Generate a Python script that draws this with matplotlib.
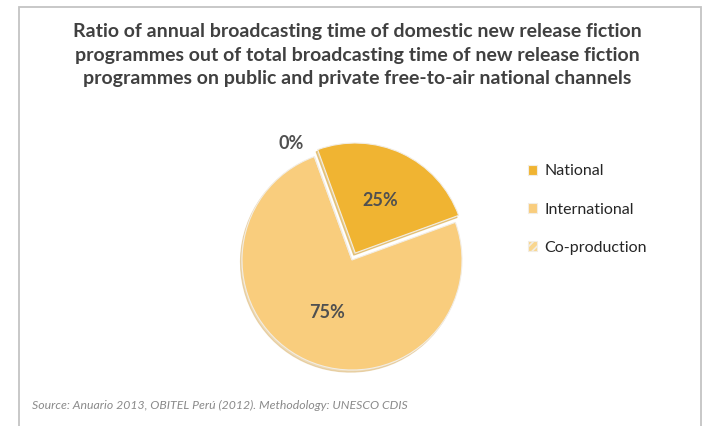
import matplotlib
matplotlib.use('Agg')
import matplotlib.pyplot as plt
from matplotlib.patches import Rectangle

plt.rcParams['font.family'] = ['Lato', 'DejaVu Sans']
plt.rcParams['hatch.color'] = '#e9a92a'
plt.rcParams['hatch.linewidth'] = 1.2

categories = ['National', 'International', 'Co-production']
values = [25, 75, 0]
colors = ['#f0b432', '#f9cd7d', '#f9d68e']
hatches = [None, None, '////']
explode = [0.07, 0, 0]

title = ('Ratio of annual broadcasting time of domestic new release fiction\n'
         'programmes out of total broadcasting time of new release fiction\n'
         'programmes on public and private free-to-air national channels')
source = 'Source: Anuario 2013, OBITEL Perú (2012). Methodology: UNESCO CDIS'

W, H = 709, 426
fig = plt.figure(figsize=(W / 100, H / 100), dpi=100)

# frame round the chart (bottom edge falls outside the picture)
fig.patches.append(Rectangle((19 / W, -0.05), 682 / W, 1.05 - 7 / H,
                             transform=fig.transFigure, fill=False,
                             edgecolor='#c4c4c4', linewidth=1.3))

fig.text(357 / W, 1 - 55 / H, title, ha='center', va='center', fontsize=14,
         fontweight='bold', color='#404040', linespacing=1.46)

# pie axes: centre (352, 260) px, radius 110 px
cx, cy, r, lim = 352, 260, 110, 1.3
size = 2 * lim * r
ax = fig.add_axes([(cx - size / 2) / W, (H - cy - size / 2) / H, size / W, size / H])

wedges, texts, autotexts = ax.pie(
    values, colors=colors, startangle=110, counterclock=False,
    explode=explode, labels=['', '', '0%'], labeldistance=1.13,
    autopct=lambda p: f'{p:.0f}%' if p > 0 else '', pctdistance=0.53,
    wedgeprops=dict(edgecolor='#f2ede4', linewidth=0.8),
    shadow=dict(ox=-0.01, oy=-0.014, shade=0.12),
    textprops=dict(fontsize=13, fontweight='bold', color='#505050'))
for w, h in zip(wedges, hatches):
    if h:
        w.set_hatch(h)
texts[2].set_position((texts[2].get_position()[0] - 0.05, texts[2].get_position()[1]))
ax.set_xlim(-lim, lim)
ax.set_ylim(-lim, lim)

fig.legend(wedges, categories, loc='upper left',
           bbox_to_anchor=(514 / W, 1 - 150 / H), frameon=False,
           fontsize=11.5, labelcolor='#262626', handlelength=0.55,
           handleheight=0.55, handletextpad=0.45, labelspacing=1.52)

fig.text(32 / W, 1 - 405 / H, source, ha='left', va='center', fontsize=8.8,
         style='italic', color='#8a8a8a')

fig.savefig('out.png', dpi=100)
